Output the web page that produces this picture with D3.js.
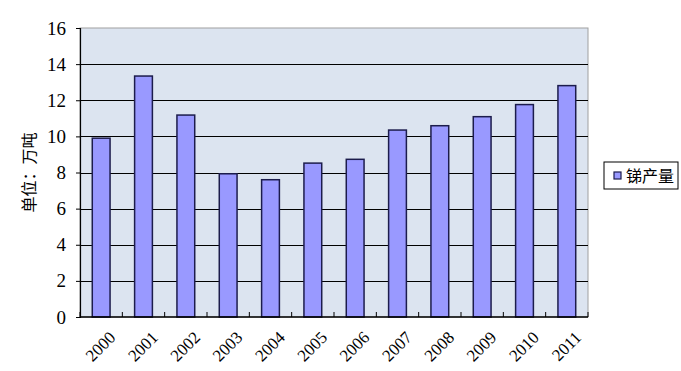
<!DOCTYPE html>
<html>
<head>
<meta charset="utf-8">
<script src="https://cdn.jsdelivr.net/npm/d3@7"></script>
<style>
  body { margin: 0; background: #fff; }
  svg { display: block; }
</style>
</head>
<body>
<div id="chart"></div>
<script>
// years and antimony output (10k tonnes)
const years = ["2000", "2001", "2002", "2003", "2004", "2005", "2006", "2007", "2008", "2009", "2010", "2011"];
const output = [9.9, 13.34, 11.18, 7.93, 7.6, 8.52, 8.73, 10.35, 10.59, 11.09, 11.76, 12.81];
const yTicks = [0, 2, 4, 6, 8, 10, 12, 14, 16];
const seriesName = "锑产量";
const yTitle = "单位：万吨";

const W = 681, H = 371;
const m = { left: 80, right: 93, top: 28, bottom: 54 };
const serif = "Liberation Serif";
const cjk = "Noto Sans CJK SC";

const svg = d3.select("#chart").append("svg")
    .attr("width", W)
    .attr("height", H);

const x = d3.scaleBand()
    .domain(years)
    .range([m.left, W - m.right])
    .paddingInner(0.58)
    .paddingOuter(0.29);

const y = d3.scaleLinear()
    .domain([0, 16])
    .range([H - m.bottom, m.top]);

// plot background
svg.append("rect")
    .attr("x", m.left)
    .attr("y", m.top)
    .attr("width", W - m.left - m.right)
    .attr("height", H - m.top - m.bottom)
    .attr("fill", "#dce4f0")
    .attr("stroke", "#a0a0a0")
    .attr("stroke-width", 1);

// gridlines
svg.append("g")
    .selectAll("line")
    .data(yTicks.filter(d => d > 0 && d < 16))
    .join("line")
    .attr("x1", m.left)
    .attr("x2", W - m.right)
    .attr("y1", d => Math.round(y(d)) + 0.5)
    .attr("y2", d => Math.round(y(d)) + 0.5)
    .attr("stroke", "#000")
    .attr("stroke-width", 1.2);

// bars
svg.append("g")
    .selectAll("rect")
    .data(output)
    .join("rect")
    .attr("x", (d, i) => x(years[i]))
    .attr("y", d => y(d))
    .attr("width", x.bandwidth())
    .attr("height", d => y(0) - y(d))
    .attr("fill", "#9999ff")
    .attr("stroke", "#1c1c4c")
    .attr("stroke-width", 1.5);

// y axis
const yAxis = svg.append("g")
    .attr("transform", `translate(${m.left},0)`)
    .call(d3.axisLeft(y).tickValues(yTicks).tickSize(4).tickPadding(10));
yAxis.select(".domain").attr("stroke", "#000").attr("stroke-width", 1.2);
yAxis.selectAll(".tick line").attr("stroke", "#000");
yAxis.selectAll("text")
    .attr("font-family", serif)
    .attr("font-size", 19)
    .attr("fill", "#000");

// x axis with ticks between categories, pointing up
const xAxis = svg.append("g")
    .attr("transform", `translate(0,${y(0)})`);
xAxis.append("line")
    .attr("x1", m.left)
    .attr("x2", W - m.right)
    .attr("stroke", "#000")
    .attr("stroke-width", 1.5);
const step = x.step();
xAxis.selectAll("line.tk")
    .data(d3.range(years.length + 1))
    .join("line")
    .attr("class", "tk")
    .attr("x1", i => m.left + i * step)
    .attr("x2", i => m.left + i * step)
    .attr("y1", 0)
    .attr("y2", -5)
    .attr("stroke", "#000");
xAxis.selectAll("text")
    .data(years)
    .join("text")
    .attr("transform", d => `translate(${x(d) + x.bandwidth() / 2 + 7},13) rotate(-45)`)
    .attr("text-anchor", "end")
    .attr("dy", "0.7em")
    .attr("font-family", serif)
    .attr("font-size", 17)
    .attr("fill", "#000")
    .text(d => d);

// y title
svg.append("text")
    .attr("transform", `translate(35,${(m.top + H - m.bottom) / 2}) rotate(-90)`)
    .attr("text-anchor", "middle")
    .attr("font-family", cjk)
    .attr("font-size", 16)
    .attr("fill", "#000")
    .text(yTitle);

// legend
const lg = svg.append("g").attr("transform", "translate(604,162)");
lg.append("rect")
    .attr("width", 74)
    .attr("height", 27)
    .attr("fill", "#fff")
    .attr("stroke", "#000");
lg.append("rect")
    .attr("x", 10)
    .attr("y", 10)
    .attr("width", 7)
    .attr("height", 7)
    .attr("fill", "#9999ff")
    .attr("stroke", "#1c1c4c")
    .attr("stroke-width", 1.2);
lg.append("text")
    .attr("x", 22)
    .attr("y", 14)
    .attr("dy", "0.36em")
    .attr("font-family", cjk)
    .attr("font-size", 16)
    .attr("fill", "#000")
    .text(seriesName);
</script>
</body>
</html>
